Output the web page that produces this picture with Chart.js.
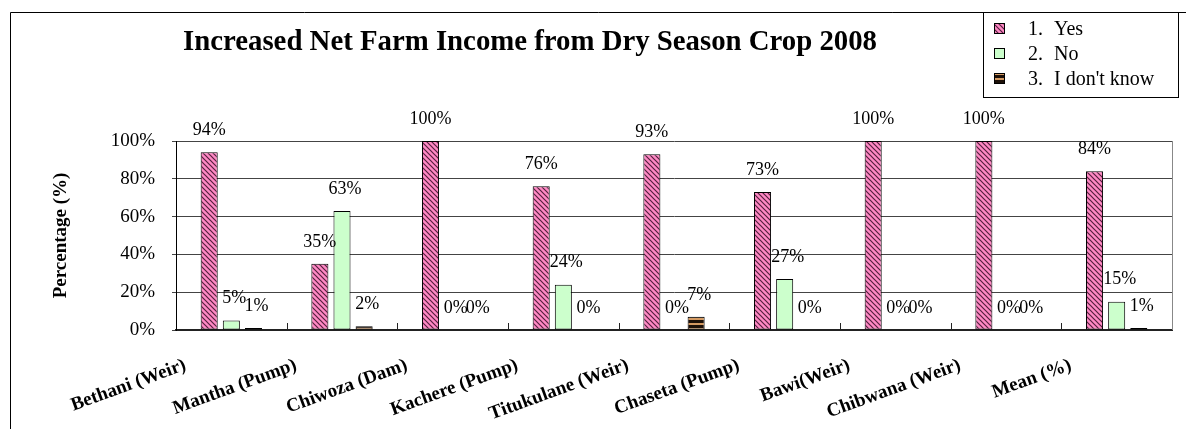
<!DOCTYPE html>
<html>
<head>
<meta charset="utf-8">
<script src="https://cdn.jsdelivr.net/npm/chart.js@4.4.1/dist/chart.umd.min.js"></script>
<style>
  html, body { margin: 0; padding: 0; background: #fff; }
  #wrap { width: 1186px; height: 429px; }
</style>
</head>
<body>
<div id="wrap"><canvas id="chart" width="1186" height="429"></canvas></div>
<script>
// נתוני הגרף
const categories = ['Bethani (Weir)', 'Mantha (Pump)', 'Chiwoza (Dam)', 'Kachere (Pump)', 'Titukulane (Weir)',
                    'Chaseta (Pump)', 'Bawi(Weir)', 'Chibwana (Weir)', 'Mean (%)'];
const seriesNames = ['1. Yes', '2. No', "3. I don't know"];
const yesValues = [94, 35, 100, 76, 93, 73, 100, 100, 84];
const noValues = [5, 63, 0, 24, 0, 27, 0, 0, 15];
const dontKnowValues = [1, 2, 0, 0, 7, 0, 0, 0, 1];
const yTicks = [0, 20, 40, 60, 80, 100];
const chartTitle = 'Increased Net Farm Income from Dry Season Crop 2008';
const yTitle = 'Percentage (%)';

const SERIF = '"Liberation Serif", "Times New Roman", serif';

// דוגמאות מילוי לעמודות
function makeHatch() {
    const c = document.createElement('canvas');
    c.width = 5; c.height = 5;
    const g = c.getContext('2d');
    g.fillStyle = '#ff88c4';
    g.fillRect(0, 0, 5, 5);
    g.strokeStyle = '#55203f';
    g.lineWidth = 1.2;
    g.beginPath();
    g.moveTo(-1, -1); g.lineTo(6, 6);
    g.moveTo(-1, 4); g.lineTo(1, 6);
    g.moveTo(4, -1); g.lineTo(6, 1);
    g.stroke();
    return g.createPattern(c, 'repeat');
}

function makeStripes() {
    const c = document.createElement('canvas');
    c.width = 4; c.height = 5;
    const g = c.getContext('2d');
    g.fillStyle = '#1c1008';
    g.fillRect(0, 0, 4, 5);
    g.fillStyle = '#d49a62';
    g.fillRect(0, 3, 4, 2);
    return g.createPattern(c, 'repeat');
}

const fills = [makeHatch(), '#ccffcc', makeStripes()];

// כותרת, מסגרת, מקרא ותוויות
const decorPlugin = {
    id: 'decor',
    beforeDraw(chart) {
        const { ctx } = chart;
        ctx.save();
        ctx.fillStyle = '#fff';
        ctx.fillRect(0, 0, chart.width, chart.height);
        ctx.restore();
    },
    afterDraw(chart) {
        const { ctx, chartArea } = chart;
        ctx.save();

        // outer frame
        ctx.strokeStyle = '#000';
        ctx.lineWidth = 1;
        ctx.beginPath();
        ctx.moveTo(10.5, 429);
        ctx.lineTo(10.5, 12.5);
        ctx.lineTo(1186, 12.5);
        ctx.stroke();

        // right edge of plot
        ctx.strokeStyle = '#888';
        ctx.beginPath();
        ctx.moveTo(Math.round(chartArea.right) + 0.5, chartArea.top);
        ctx.lineTo(Math.round(chartArea.right) + 0.5, chartArea.bottom);
        ctx.stroke();

        // small inner ticks between categories
        const n = categories.length;
        const step = (chartArea.right - chartArea.left) / n;
        ctx.strokeStyle = '#222';
        ctx.beginPath();
        for (let i = 1; i < n; i++) {
            const x = Math.round(chartArea.left + i * step) + 0.5;
            ctx.moveTo(x, chartArea.bottom);
            ctx.lineTo(x, chartArea.bottom - 7);
        }
        ctx.stroke();

        // title (condensed bold like the original)
        ctx.fillStyle = '#000';
        ctx.font = 'bold 30px ' + SERIF;
        ctx.textBaseline = 'alphabetic';
        ctx.textAlign = 'left';
        const w = ctx.measureText(chartTitle).width;
        const targetW = 694;
        ctx.save();
        ctx.translate(183, 50);
        ctx.scale(targetW / w, 1);
        ctx.fillText(chartTitle, 0, 0);
        ctx.restore();

        // legend
        ctx.fillStyle = '#fff';
        ctx.fillRect(983, 12, 196, 85);
        ctx.strokeStyle = '#000';
        ctx.strokeRect(983.5, 12.5, 195, 85);
        ctx.font = '20px ' + SERIF;
        const rows = [29, 54, 79];
        seriesNames.forEach((name, i) => {
            ctx.fillStyle = fills[i];
            ctx.fillRect(994, rows[i] - 6, 11, 11);
            ctx.strokeStyle = '#000';
            ctx.strokeRect(994.5, rows[i] - 5.5, 10, 10);
            const sp = name.indexOf(' ');
            ctx.fillStyle = '#000';
            ctx.textBaseline = 'middle';
            ctx.fillText(name.slice(0, sp), 1028, rows[i] + 1);
            ctx.fillText(name.slice(sp + 1), 1054, rows[i] + 1);
        });

        ctx.restore();
    },
    afterDatasetsDraw(chart) {
        const { ctx } = chart;
        ctx.save();
        ctx.font = '18px ' + SERIF;
        ctx.fillStyle = '#000';
        ctx.textAlign = 'center';
        ctx.textBaseline = 'middle';
        chart.data.datasets.forEach((ds, di) => {
            const meta = chart.getDatasetMeta(di);
            meta.data.forEach((bar, i) => {
                ctx.fillText(ds.data[i] + '%', bar.x + (di ? 3 : 0), bar.y - 22);
            });
        });
        ctx.restore();
    }
};

const ctx = document.getElementById('chart').getContext('2d');
new Chart(ctx, {
    type: 'bar',
    data: {
        labels: categories,
        datasets: [yesValues, noValues, dontKnowValues].map((vals, i) => ({
            label: seriesNames[i],
            data: vals,
            backgroundColor: fills[i],
            borderColor: '#000',
            borderWidth: 1,
            borderSkipped: false,
            categoryPercentage: 0.6,
            barPercentage: 0.77
        }))
    },
    options: {
        responsive: false,
        animation: false,
        layout: { padding: { top: 141, right: 14, left: 44, bottom: 0 } },
        plugins: {
            legend: { display: false },
            title: { display: false },
            tooltip: { enabled: false }
        },
        scales: {
            x: {
                afterFit(scale) { scale.height = 99; },
                grid: { display: false, drawTicks: false },
                border: { display: true, color: '#222', width: 2 },
                ticks: {
                    autoSkip: false,
                    minRotation: 20,
                    maxRotation: 20,
                    labelOffset: -46,
                    padding: 24,
                    color: '#000',
                    font: { family: SERIF, size: 19, weight: 'bold' }
                }
            },
            y: {
                min: 0,
                max: 100,
                afterFit(scale) { scale.width = 132; },
                afterBuildTicks(scale) { scale.ticks = yTicks.map(v => ({ value: v })); },
                grid: { color: '#444', lineWidth: 1, tickLength: 4 },
                border: { display: true, color: '#000', width: 1 },
                title: {
                    display: true,
                    text: yTitle,
                    color: '#000',
                    padding: { top: 6, bottom: 0 },
                    font: { family: SERIF, size: 19, weight: 'bold' }
                },
                ticks: {
                    padding: 17,
                    color: '#000',
                    font: { family: SERIF, size: 19 },
                    callback: v => v + '%'
                }
            }
        }
    },
    plugins: [decorPlugin]
});
</script>
</body>
</html>
